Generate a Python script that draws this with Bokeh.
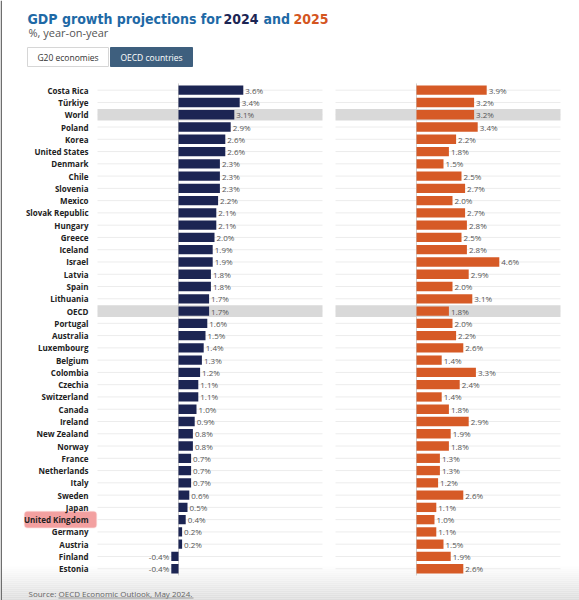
import numpy as np
from bokeh.plotting import figure
from bokeh.models import ColumnDataSource, Range1d, BoxAnnotation
from bokeh.core.properties import value
from bokeh.embed import file_html
from bokeh.resources import INLINE

# ---------------- data ----------------
countries = ["Costa Rica", "Türkiye", "World", "Poland", "Korea", "United States",
             "Denmark", "Chile", "Slovenia", "Mexico", "Slovak Republic", "Hungary",
             "Greece", "Iceland", "Israel", "Latvia", "Spain", "Lithuania", "OECD",
             "Portugal", "Australia", "Luxembourg", "Belgium", "Colombia", "Czechia",
             "Switzerland", "Canada", "Ireland", "New Zealand", "Norway", "France",
             "Netherlands", "Italy", "Sweden", "Japan", "United Kingdom", "Germany",
             "Austria", "Finland", "Estonia"]
g2024 = [3.6, 3.4, 3.1, 2.9, 2.6, 2.6, 2.3, 2.3, 2.3, 2.2, 2.1, 2.1, 2.0, 1.9, 1.9,
         1.8, 1.8, 1.7, 1.7, 1.6, 1.5, 1.4, 1.3, 1.2, 1.1, 1.1, 1.0, 0.9, 0.8, 0.8,
         0.7, 0.7, 0.7, 0.6, 0.5, 0.4, 0.2, 0.2, -0.4, -0.4]
g2025 = [3.9, 3.2, 3.2, 3.4, 2.2, 1.8, 1.5, 2.5, 2.7, 2.0, 2.7, 2.8, 2.5, 2.8, 4.6,
         2.9, 2.0, 3.1, 1.8, 2.0, 2.2, 2.6, 1.4, 3.3, 2.4, 1.4, 1.8, 2.9, 1.9, 1.8,
         1.3, 1.3, 1.2, 2.6, 1.1, 1.0, 1.1, 1.5, 1.9, 2.6]
highlight_rows = ["World", "OECD"]
emphasised = "United Kingdom"
title_parts = ["GDP growth projections for", "2024", "and", "2025"]
subtitle = "%, year-on-year"
buttons = ["G20 economies", "OECD countries"]
source_lead = "Source: "
source_ref = "OECD Economic Outlook, May 2024."

# ---------------- layout constants ----------------
W, H = 579, 600
ROW0, ROWH = 89.7, 12.27
PXPCT = 18.0
ZERO_L, ZERO_R = 178.0, 416.0
PANEL = (-4.5, 8.0)

NAVY = "#1c2553"
ORANGE = "#d65a26"
BLUE = "#1e69a6"
FONT = value("Open Sans")
TFONT = value("DejaVu Sans Condensed")

p = figure(width=W, height=H, output_backend="svg", toolbar_location=None,
           x_range=Range1d(-ZERO_L / PXPCT, (W - ZERO_L) / PXPCT),
           y_range=Range1d((H - ROW0) / ROWH, -ROW0 / ROWH),
           x_axis_type=None, y_axis_type=None, min_border=0)
p.extra_x_ranges = {"r": Range1d(-ZERO_R / PXPCT, (W - ZERO_R) / PXPCT),
                    "px": Range1d(0, W)}
p.extra_y_ranges = {"py": Range1d(H, 0)}
p.grid.visible = False
p.outline_line_color = None
p.background_fill_color = "white"
p.border_fill_color = "white"

n = len(countries)
idx = np.arange(n)
a24 = np.array(g2024)
a25 = np.array(g2025)
off = 2.0 / PXPCT

def lab_pos(v):
    return np.where(v >= 0, v + off, v - off)

def lab_align(v):
    return ["left" if x >= 0 else "right" for x in v]

src = ColumnDataSource(dict(
    y=idx, country=countries,
    v24=a24, v25=a25,
    t24=[f"{v:.1f}%" for v in a24], t25=[f"{v:.1f}%" for v in a25],
    x24=lab_pos(a24), x25=lab_pos(a25),
    al24=lab_align(a24), al25=lab_align(a25),
    gl=[PANEL[0]] * n, gr=[PANEL[1]] * n,
))
hl_idx = [countries.index(c) for c in highlight_rows]
hsrc = ColumnDataSource(dict(y=hl_idx, l=[PANEL[0]] * len(hl_idx), r=[PANEL[1]] * len(hl_idx)))

# bottom fade
steps = 17
for k in range(steps):
    top = 566 + k * 2
    g = int(255 - (255 - 222) * (k + 1) / steps)
    p.quad(left=0, right=W, top=top, bottom=top + 2 if k < steps - 1 else H,
           fill_color=f"#{g:02x}{g:02x}{g:02x}", line_color=None,
           x_range_name="px", y_range_name="py")

# left frame edge
p.segment(x0=[0.75], x1=[0.75], y0=[0], y1=[H], line_color="#6e6e6e", line_width=1.5,
          x_range_name="px", y_range_name="py")

# emphasis box for UK label
uk = countries.index(emphasised)
p.add_layout(BoxAnnotation(left=24, right=96, top=uk - 0.66, bottom=uk + 0.66,
                           x_range_name="px", fill_color="#f3a0a0", fill_alpha=1.0,
                           line_color="#f6b9b9", line_width=1.5, border_radius=3,
                           level="underlay"))

for rn in ["default", "r"]:
    # gridlines
    p.segment(x0="gl", x1="gr", y0="y", y1="y", source=src, line_color="#ececec",
              line_width=1, x_range_name=rn)
    # highlighted rows
    p.hbar(y="y", left="l", right="r", height=0.95, source=hsrc,
           fill_color="#d9d9d9", line_color=None, x_range_name=rn)
    # zero line
    p.segment(x0=0, x1=0, y0=-0.55, y1=n - 0.45, line_color="#cfcfcf",
              line_width=1, x_range_name=rn)

p.hbar(y="y", left=0, right="v24", height=0.76, source=src, fill_color=NAVY,
       line_color=None)
p.hbar(y="y", left=0, right="v25", height=0.76, source=src, fill_color=ORANGE,
       line_color=None, x_range_name="r")

p.text(x="x24", y="y", text="t24", source=src, text_align="al24",
       text_baseline="middle", text_font=FONT, text_font_size="8px",
       text_color="#555555")
p.text(x="x25", y="y", text="t25", source=src, text_align="al25",
       text_baseline="middle", text_font=FONT, text_font_size="8px",
       text_color="#555555", x_range_name="r")

# country labels
p.text(x=-5.0, y="y", text="country", source=src, text_align="right",
       text_baseline="middle", text_font=FONT, text_font_size="8px",
       text_font_style="bold", text_color="#222222")

# title
tx = [27, 223, 263, 293]
tc = [BLUE, NAVY, BLUE, "#d4561f"]
for t, x, c in zip(title_parts, tx, tc):
    p.text(x=[x], y=[18.5], text=[t], text_font=TFONT, text_font_size="14px",
           text_font_style="bold", text_color=c, text_baseline="alphabetic",
           x_range_name="px", y_range_name="py")
p.text(x=[28], y=[32], text=[subtitle], text_font=FONT, text_font_size="11px",
       text_color="#555555", text_baseline="middle", x_range_name="px", y_range_name="py")

# buttons
p.quad(left=[27], right=[108], top=[47], bottom=[66], fill_color="white",
       line_color="#d6d6d6", x_range_name="px", y_range_name="py")
p.quad(left=[110], right=[192], top=[47], bottom=[66], fill_color="#3e5f7e",
       line_color="#3e5f7e", x_range_name="px", y_range_name="py")
p.text(x=[67.5, 151], y=[56.5, 56.5], text=buttons, text_font=FONT,
       text_font_size="8.5px", text_color=["#333333", "white"], text_align="center",
       text_baseline="middle", x_range_name="px", y_range_name="py")

# source
p.text(x=[28], y=[593], text=[source_lead], text_font=FONT, text_font_size="8px",
       text_color="#666666", text_baseline="middle", x_range_name="px", y_range_name="py")
p.text(x=[58], y=[593], text=[source_ref], text_font=FONT, text_font_size="8px",
       text_color="#666666", text_baseline="middle", x_range_name="px", y_range_name="py")
p.segment(x0=[58], x1=[193], y0=[597.5], y1=[597.5], line_color="#888888",
          line_width=0.8, x_range_name="px", y_range_name="py")

open("out.html", "w").write(file_html(p, INLINE))
